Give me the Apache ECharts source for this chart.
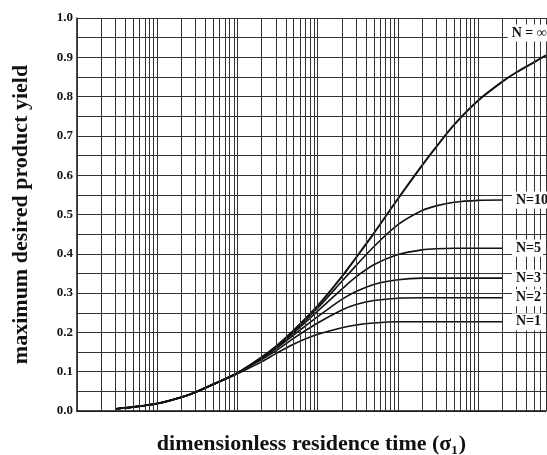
<!DOCTYPE html>
<html><head><meta charset="utf-8">
<script src="https://cdn.jsdelivr.net/npm/echarts@6/dist/echarts.min.js"></script>
<style>html,body{margin:0;padding:0;background:#fff}#c{width:547px;height:455px}</style>
</head><body><div id="c"></div>
<script>
// ---- data ----
const xValues = [0.03, 0.05, 0.1, 0.2, 0.3, 0.5, 1, 2, 3, 5, 10, 20, 30, 50, 100, 200, 300, 500, 1000, 2000, 3000, 5000, 7000];
const yInf = [0.005, 0.010, 0.019, 0.035, 0.048, 0.068, 0.097, 0.137, 0.164, 0.205, 0.268, 0.342, 0.39, 0.452, 0.54, 0.625, 0.672, 0.728, 0.79, 0.838, 0.862, 0.888, 0.905];
const yN10 = [0.005, 0.010, 0.019, 0.035, 0.048, 0.068, 0.097, 0.136, 0.162, 0.202, 0.262, 0.33, 0.37, 0.418, 0.474, 0.51, 0.522, 0.531, 0.536, 0.537];
const yN5 = [0.005, 0.010, 0.019, 0.035, 0.048, 0.068, 0.097, 0.135, 0.161, 0.199, 0.254, 0.31, 0.341, 0.372, 0.398, 0.41, 0.413, 0.414, 0.414, 0.414];
const yN3 = [0.005, 0.010, 0.019, 0.035, 0.048, 0.068, 0.097, 0.134, 0.158, 0.193, 0.24, 0.284, 0.304, 0.322, 0.334, 0.338, 0.338, 0.338, 0.338, 0.338];
const yN2 = [0.005, 0.010, 0.019, 0.035, 0.048, 0.068, 0.096, 0.131, 0.153, 0.185, 0.224, 0.257, 0.271, 0.281, 0.287, 0.288, 0.288, 0.288, 0.288, 0.288];
const yN1 = [0.005, 0.010, 0.019, 0.035, 0.048, 0.068, 0.095, 0.125, 0.146, 0.17, 0.195, 0.212, 0.219, 0.224, 0.227, 0.227, 0.227, 0.227, 0.227, 0.227];
const curveNames = ['N = \u221e', 'N=10', 'N=5', 'N=3', 'N=2', 'N=1'];
const curveValues = [yInf, yN10, yN5, yN3, yN2, yN1];
const infLabelValue = 0.962;
const gridDecades = [0.01, 0.1, 1, 10, 100, 1000];
const gridMultipliers = [1, 2, 3, 4, 5, 6, 7, 8, 9];
const xMin = 0.01, xMax = 7000;
const yTitle = 'maximum desired product yield';
const xTitle = 'dimensionless residence time (\u03c3';

// ---- chart ----
const serif = 'Liberation Serif';
const ink = '#111';
const gridColor = '#333';
const verticalLines = [];
gridDecades.forEach(d => gridMultipliers.forEach(m => {
  const v = +(d * m).toPrecision(6);
  if (v <= xMax) verticalLines.push(v);
}));

const labelStyle = {
  show: true, position: 'right', distance: 0,
  color: ink, fontFamily: serif, fontWeight: 'bold', fontSize: 14,
  backgroundColor: '#fff', padding: [2, 2, 1, 4]
};

const series = [{
  type: 'line', data: [], z: 1, silent: true,
  markLine: {
    silent: true, animation: false, symbol: ['none', 'none'],
    label: { show: false },
    lineStyle: { color: gridColor, width: 1, type: 'solid' },
    emphasis: { disabled: true },
    data: verticalLines.map(v => ({ xAxis: v }))
  }
}];

curveValues.forEach((vals, i) => {
  const pts = vals.map((y, k) => [xValues[k], y]);
  const last = pts[pts.length - 1];
  const isInf = i === 0;
  series.push({
    type: 'line', name: curveNames[i], z: 3,
    data: pts, showSymbol: false, symbol: 'none',
    smooth: 0.3,
    lineStyle: { color: ink, width: isInf ? 2 : 1.6 },
    emphasis: { disabled: true },
    markPoint: {
      silent: true, animation: false,
      symbol: 'rect', symbolSize: 1,
      itemStyle: { color: 'rgba(0,0,0,0)' },
      label: Object.assign({}, labelStyle, { formatter: curveNames[i] }),
      data: [{ coord: isInf ? [2300, infLabelValue] : [2600, last[1]], value: 0 }]
    }
  });
});

const chart = echarts.init(document.getElementById('c'), null, { renderer: 'canvas' });
chart.setOption({
  animation: false,
  backgroundColor: '#fff',
  grid: { left: 77, right: 1, top: 18, bottom: 44, containLabel: false, outerBoundsMode: 'none' },
  xAxis: {
    type: 'log', logBase: 10, min: xMin, max: xMax,
    axisLine: { show: true, lineStyle: { color: ink, width: 1.5 } },
    axisTick: { show: false }, axisLabel: { show: false }, splitLine: { show: false },
    name: '{a|' + xTitle + '}{b|1}{a|)}',
    nameLocation: 'middle', nameGap: 20,
    nameTextStyle: {
      rich: {
        a: { fontFamily: serif, fontWeight: 'bold', fontSize: 22, color: ink, lineHeight: 26 },
        b: { fontFamily: serif, fontWeight: 'bold', fontSize: 13, color: ink, lineHeight: 26, verticalAlign: 'bottom', padding: [0, 1, 0, 0] }
      }
    }
  },
  yAxis: {
    type: 'value', min: 0, max: 1, interval: 0.1,
    axisLine: { show: true, lineStyle: { color: ink, width: 1.5 } },
    axisTick: { show: false },
    axisLabel: { formatter: v => v.toFixed(1), fontFamily: serif, fontWeight: 'bold', fontSize: 13, color: ink, margin: 4 },
    splitLine: { show: true, lineStyle: { color: gridColor, width: 1 } },
    minorTick: { show: false, splitNumber: 2 },
    minorSplitLine: { show: true, lineStyle: { color: gridColor, width: 1 } },
    name: yTitle, nameLocation: 'middle', nameGap: 45,
    nameTextStyle: { fontFamily: serif, fontWeight: 'bold', fontSize: 22, color: ink }
  },
  series: series
});
</script>
</body></html>
